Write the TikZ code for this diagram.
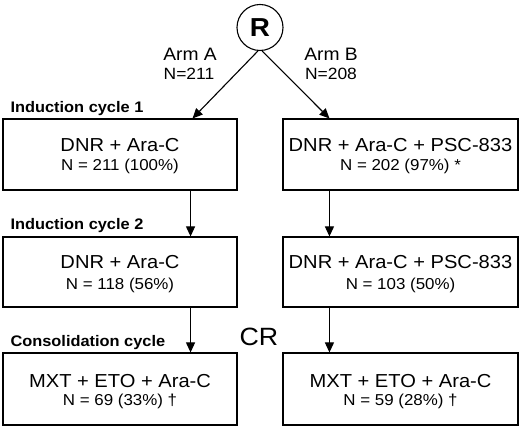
\documentclass[tikz,border=0pt]{standalone}
\usepackage{fontspec}
\setmainfont{Liberation Sans}[FakeStretch=1.07]
\usetikzlibrary{arrows.meta,calc}
\begin{document}
\begin{tikzpicture}[x=1pt,y=-1pt, line width=1.1pt,
  arr/.style={-{Triangle[length=10pt,width=9pt]}},
  box/.style={draw, rectangle, inner sep=0pt},
  tone/.style={anchor=base, inner sep=0pt, font=\fontsize{18.8}{20}\selectfont},
  ttwo/.style={anchor=base, inner sep=0pt, font=\fontsize{15.8}{17}\selectfont},
  armlab/.style={anchor=base, inner sep=0pt, font=\fontsize{18}{19}\selectfont},
  nlab/.style={anchor=base, inner sep=0pt, font=\fontsize{16.3}{17}\selectfont},
  cyc/.style={anchor=base west, inner sep=0pt, font=\fontsize{15.3}{17}\selectfont\bfseries}
]
\useasboundingbox (0,0) rectangle (520,427);
\node[draw, circle, minimum size=46pt, inner sep=0pt, font=\fontsize{26}{26}\selectfont\bfseries] (R) at (260,27.5) {R};
\node[armlab] (armA) at (190,61) {Arm A};
\node[nlab] (nA) at (189,80) {N=211};
\node[armlab] (armB) at (331,61) {Arm B};
\node[nlab] (nB) at (331,80) {N=208};

\node[cyc] (c1) at (10,113) {Induction cycle 1};
\node[cyc] (c2) at (10,230) {Induction cycle 2};
\node[cyc] (c3) at (10,347) {Consolidation cycle};
\node[anchor=base, inner sep=0pt, font=\fontsize{25}{25}\selectfont] (cr) at (259,345.5) {CR};

\node[box, minimum width=234pt, minimum height=71pt] (a1) at (120,154.5) {};
\node[box, minimum width=235pt, minimum height=71pt] (b1) at (400.5,154.5) {};
\node[box, minimum width=234pt, minimum height=70pt] (a2) at (120,272) {};
\node[box, minimum width=235pt, minimum height=70pt] (b2) at (400.5,272) {};
\node[box, minimum width=234pt, minimum height=72pt] (a3) at (120,389) {};
\node[box, minimum width=235pt, minimum height=72pt] (b3) at (400.5,389) {};

\node[tone] (a1t) at ($(a1.center)+(0,-2.5)$) {DNR + Ara-C};
\node[ttwo] (a1n) at ($(a1.center)+(0,16.5)$) {N = 211 (100\%)};
\node[tone] (b1t) at ($(b1.center)+(0,-2.5)$) {DNR + Ara-C + PSC-833};
\node[ttwo] (b1n) at ($(b1.center)+(0,16.5)$) {N = 202 (97\%) *};
\node[tone] (a2t) at ($(a2.center)+(0,-3)$) {DNR + Ara-C};
\node[ttwo] (a2n) at ($(a2.center)+(0,18)$) {N = 118 (56\%)};
\node[tone] (b2t) at ($(b2.center)+(0,-3)$) {DNR + Ara-C + PSC-833};
\node[ttwo] (b2n) at ($(b2.center)+(0,18)$) {N = 103 (50\%)};
\node[tone] (a3t) at ($(a3.center)+(0,-1)$) {MXT + ETO + Ara-C};
\node[ttwo] (a3n) at ($(a3.center)+(0,17)$) {N = 69 (33\%) †};
\node[tone] (b3t) at ($(b3.center)+(0,-1)$) {MXT + ETO + Ara-C};
\node[ttwo] (b3n) at ($(b3.center)+(0,17)$) {N = 59 (28\%) †};

\draw[arr] (R.-95) -- ([xshift=-45pt]a1.north east);
\draw[arr] (R.-85) -- ([xshift=47pt]b1.north west);
\draw[arr] ([xshift=-47pt]a1.south east) -- ([xshift=-47pt]a2.north east);
\draw[arr] ([xshift=-47pt]a2.south east) -- ([xshift=-47pt]a3.north east);
\draw[arr] ([xshift=47pt]b1.south west) -- ([xshift=47pt]b2.north west);
\draw[arr] ([xshift=47pt]b2.south west) -- ([xshift=47pt]b3.north west);
\end{tikzpicture}
\end{document}
